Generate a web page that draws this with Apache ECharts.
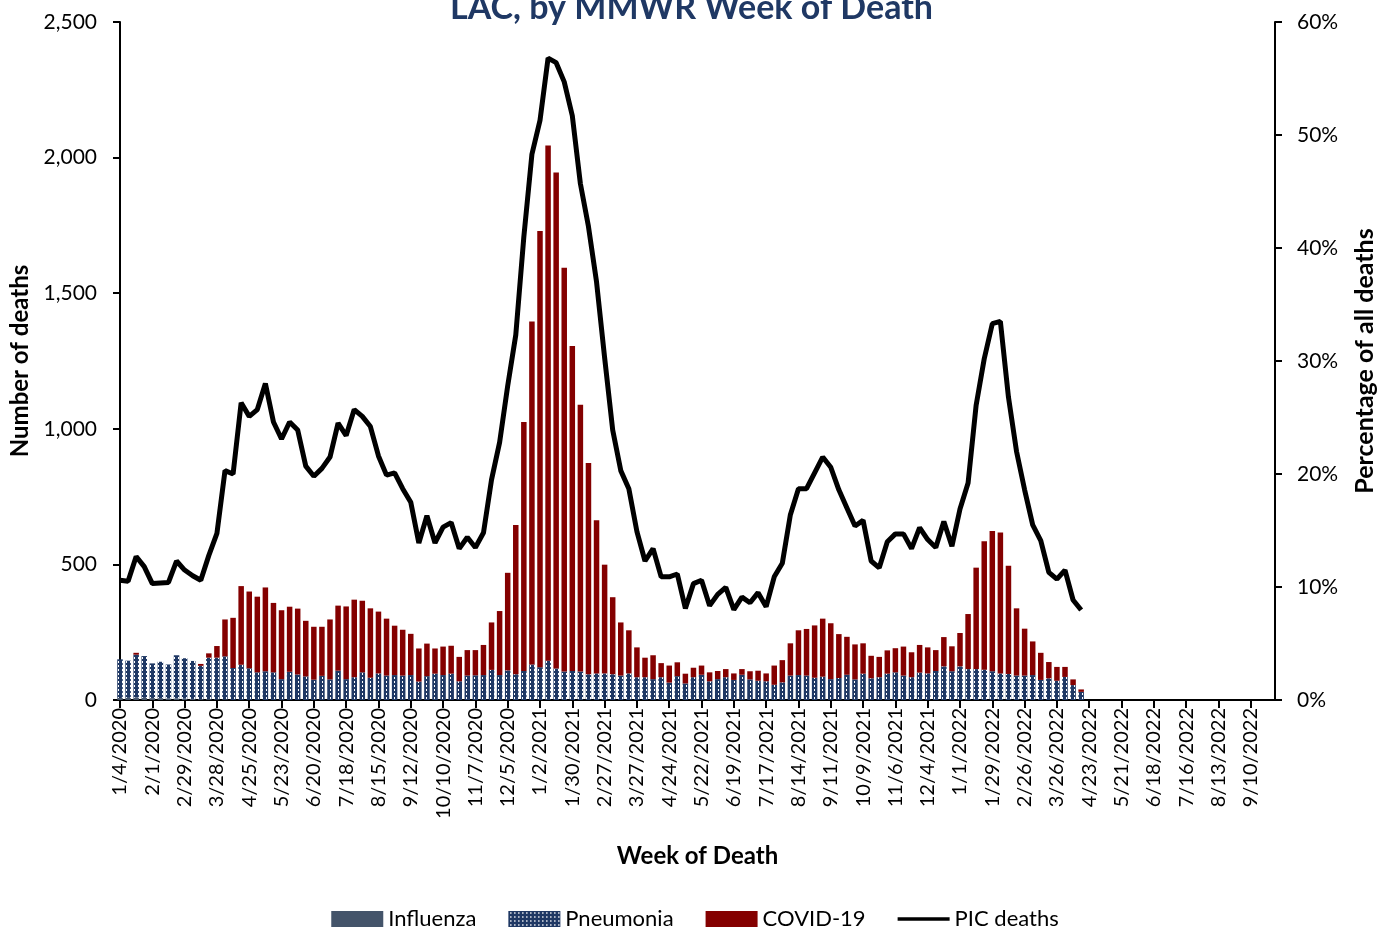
<!DOCTYPE html>
<html>
<head>
<meta charset="utf-8">
<script src="https://cdn.jsdelivr.net/npm/echarts@6/dist/echarts.min.js"></script>
<style>
  html, body { margin: 0; padding: 0; background: #fff; }
  #chart { width: 1390px; height: 928px; }
</style>
</head>
<body>
<div id="chart"></div>
<script>
// ---------- DATA ----------
const weeks = [
  "1/4/2020","1/11/2020","1/18/2020","1/25/2020","2/1/2020","2/8/2020","2/15/2020","2/22/2020","2/29/2020","3/7/2020",
  "3/14/2020","3/21/2020","3/28/2020","4/4/2020","4/11/2020","4/18/2020","4/25/2020","5/2/2020","5/9/2020","5/16/2020",
  "5/23/2020","5/30/2020","6/6/2020","6/13/2020","6/20/2020","6/27/2020","7/4/2020","7/11/2020","7/18/2020","7/25/2020",
  "8/1/2020","8/8/2020","8/15/2020","8/22/2020","8/29/2020","9/5/2020","9/12/2020","9/19/2020","9/26/2020","10/3/2020",
  "10/10/2020","10/17/2020","10/24/2020","10/31/2020","11/7/2020","11/14/2020","11/21/2020","11/28/2020","12/5/2020","12/12/2020",
  "12/19/2020","12/26/2020","1/2/2021","1/9/2021","1/16/2021","1/23/2021","1/30/2021","2/6/2021","2/13/2021","2/20/2021",
  "2/27/2021","3/6/2021","3/13/2021","3/20/2021","3/27/2021","4/3/2021","4/10/2021","4/17/2021","4/24/2021","5/1/2021",
  "5/8/2021","5/15/2021","5/22/2021","5/29/2021","6/5/2021","6/12/2021","6/19/2021","6/26/2021","7/3/2021","7/10/2021",
  "7/17/2021","7/24/2021","7/31/2021","8/7/2021","8/14/2021","8/21/2021","8/28/2021","9/4/2021","9/11/2021","9/18/2021",
  "9/25/2021","10/2/2021","10/9/2021","10/16/2021","10/23/2021","10/30/2021","11/6/2021","11/13/2021","11/20/2021","11/27/2021",
  "12/4/2021","12/11/2021","12/18/2021","12/25/2021","1/1/2022","1/8/2022","1/15/2022","1/22/2022","1/29/2022","2/5/2022",
  "2/12/2022","2/19/2022","2/26/2022","3/5/2022","3/12/2022","3/19/2022","3/26/2022","4/2/2022","4/9/2022","4/16/2022",
  "4/23/2022","4/30/2022","5/7/2022","5/14/2022","5/21/2022","5/28/2022","6/4/2022","6/11/2022","6/18/2022","6/25/2022",
  "7/2/2022","7/9/2022","7/16/2022","7/23/2022","7/30/2022","8/6/2022","8/13/2022","8/20/2022","8/27/2022","9/3/2022",
  "9/10/2022","9/17/2022","9/24/2022","10/1/2022"
];

const influenza = [
  8,8,9,8,7,7,6,6,5,4,
  3,3,2,2,0,0,0,0,0,0
];

const pneumonia = [
  142,137,158,154,128,134,125,159,149,140,
  123,153,154,159,118,130,117,102,106,102,
  77,104,94,87,75,89,76,108,77,84,
  102,82,98,90,92,90,92,68,88,97,
  92,97,69,90,91,92,111,92,109,95,
  107,131,121,145,116,105,107,105,95,98,
  98,95,90,98,84,84,77,84,64,88,
  61,84,93,69,77,84,74,93,76,71,
  69,56,65,90,92,90,82,86,77,81,
  93,76,97,80,84,97,102,90,84,101,
  98,107,124,106,124,114,114,112,106,98,
  96,90,90,92,74,80,71,85,55,30
];

const covid = [
  0,0,7,0,0,0,0,0,0,0,
  7,16,43,136,185,290,283,279,309,256,
  254,240,243,205,195,181,221,240,268,286,
  264,256,228,210,182,169,152,122,120,93,
  105,103,90,94,93,111,175,236,360,550,
  918,1265,1608,1900,1829,1489,1198,984,779,565,
  401,284,196,159,110,72,88,52,63,51,
  36,35,34,33,30,30,24,21,30,37,
  29,71,82,119,165,172,193,214,206,162,
  140,129,112,83,75,86,89,107,92,102,
  96,77,108,92,123,203,374,473,517,520,
  399,248,173,124,100,60,51,37,21,9
];

// PIC deaths as % of all deaths
const picPct = [
  10.6,10.5,12.7,11.8,10.3,10.35,10.4,12.3,11.5,11.0,
  10.6,12.8,14.75,20.3,20.0,26.3,25.1,25.7,28.0,24.6,
  23.1,24.6,23.9,20.7,19.8,20.5,21.5,24.5,23.4,25.7,
  25.1,24.2,21.6,19.9,20.1,18.7,17.5,13.9,16.3,13.9,
  15.3,15.7,13.4,14.4,13.5,14.8,19.5,22.8,27.8,32.3,
  41.0,48.3,51.3,56.8,56.4,54.7,51.7,45.7,41.9,37.0,
  30.3,23.9,20.3,18.7,14.9,12.3,13.4,10.9,10.9,11.15,
  8.1,10.3,10.6,8.35,9.35,9.97,8.0,9.1,8.6,9.5,
  8.26,10.9,12.1,16.4,18.7,18.7,20.1,21.5,20.6,18.6,
  17.0,15.4,15.9,12.3,11.7,14.0,14.7,14.7,13.4,15.25,
  14.2,13.5,15.8,13.6,16.9,19.2,26.1,30.2,33.3,33.5,
  26.8,22.0,18.6,15.5,14.1,11.3,10.7,11.5,8.85,7.96
];

const leftTicks = [0, 500, 1000, 1500, 2000, 2500];
const rightTicks = [0, 10, 20, 30, 40, 50, 60];

// ---------- STYLE ----------
const FONT = 'Lato';
const NAVY = '#1F3864';
const FLU = '#44546A';
const RED = '#840000';

function dotPattern() {
  const c = document.createElement('canvas');
  c.width = 4; c.height = 4;
  const g = c.getContext('2d');
  g.fillStyle = NAVY;
  g.fillRect(0, 0, 4, 4);
  g.fillStyle = '#ffffff';
  g.fillRect(2, 1, 1, 2);
  return c;
}

const chart = echarts.init(document.getElementById('chart'), null, { renderer: 'canvas' });

const option = {
  animation: false,
  backgroundColor: '#ffffff',
  textStyle: { fontFamily: FONT, color: '#000' },
  title: {
    text: 'LAC, by MMWR Week of Death',
    left: 445,
    top: -14,
    textStyle: { fontFamily: FONT, fontSize: 34, fontWeight: 'bold', color: NAVY }
  },
  grid: { left: 117, right: 115, top: 22, bottom: 228, containLabel: false },
  legend: {
    top: 903,
    left: 'center',
    itemWidth: 52,
    itemHeight: 16,
    itemGap: 32,
    textStyle: { fontFamily: FONT, fontSize: 22, color: '#000' },
    data: [
      { name: 'Influenza', icon: 'rect' },
      { name: 'Pneumonia', icon: 'rect' },
      { name: 'COVID-19', icon: 'rect' },
      { name: 'PIC deaths', icon: 'path://M0,0 L0,0 M0,6.2 L52,6.2 L52,9.8 L0,9.8 Z M52,16 L52,16' }
    ]
  },
  xAxis: {
    type: 'category',
    data: weeks,
    boundaryGap: false,
    name: 'Week of Death',
    nameLocation: 'middle',
    nameGap: 144,
    nameTextStyle: { fontFamily: FONT, fontSize: 24, fontWeight: 'bold', color: '#000' },
    axisLine: { show: true, lineStyle: { color: '#000', width: 2 } },
    axisTick: { show: true, interval: 3, length: 8, lineStyle: { color: '#000', width: 2 } },
    axisLabel: { interval: 3, rotate: 90, fontFamily: FONT, fontSize: 20, color: '#000', margin: 8 },
    splitLine: { show: false }
  },
  yAxis: [
    {
      type: 'value',
      min: leftTicks[0],
      max: leftTicks[leftTicks.length - 1],
      interval: 500,
      name: 'Number of deaths',
      nameLocation: 'middle',
      nameRotate: 90,
      nameGap: 88,
      nameTextStyle: { fontFamily: FONT, fontSize: 24, fontWeight: 'bold', color: '#000' },
      axisLine: { show: true, lineStyle: { color: '#000', width: 2 } },
      axisTick: { show: true, length: 7, lineStyle: { color: '#000', width: 2 } },
      axisLabel: {
        fontFamily: FONT, fontSize: 21, color: '#000', margin: 23,
        formatter: v => v.toLocaleString('en-US')
      },
      splitLine: { show: false }
    },
    {
      type: 'value',
      position: 'right',
      min: rightTicks[0],
      max: rightTicks[rightTicks.length - 1],
      interval: 10,
      name: 'Percentage of all deaths',
      nameLocation: 'middle',
      nameRotate: 90,
      nameGap: 77,
      nameTextStyle: { fontFamily: FONT, fontSize: 25, fontWeight: 'bold', color: '#000' },
      axisLine: { show: true, lineStyle: { color: '#000', width: 2 } },
      axisTick: { show: true, length: 7, lineStyle: { color: '#000', width: 2 } },
      axisLabel: { fontFamily: FONT, fontSize: 21, color: '#000', margin: 22, formatter: '{value}%' },
      splitLine: { show: false }
    }
  ],
  series: [
    {
      name: 'Influenza', type: 'bar', stack: 'deaths', barWidth: 5.5,
      itemStyle: { color: FLU }, data: influenza
    },
    {
      name: 'Pneumonia', type: 'bar', stack: 'deaths', barWidth: 5.5,
      itemStyle: { color: { image: dotPattern(), repeat: 'repeat' } }, data: pneumonia
    },
    {
      name: 'COVID-19', type: 'bar', stack: 'deaths', barWidth: 5.5,
      itemStyle: { color: RED }, data: covid
    },
    {
      name: 'PIC deaths', type: 'line', yAxisIndex: 1, symbol: 'none', z: 10,
      lineStyle: { color: '#000', width: 5 }, itemStyle: { color: '#000' },
      data: picPct
    }
  ]
};

chart.setOption(option);
</script>
</body>
</html>
